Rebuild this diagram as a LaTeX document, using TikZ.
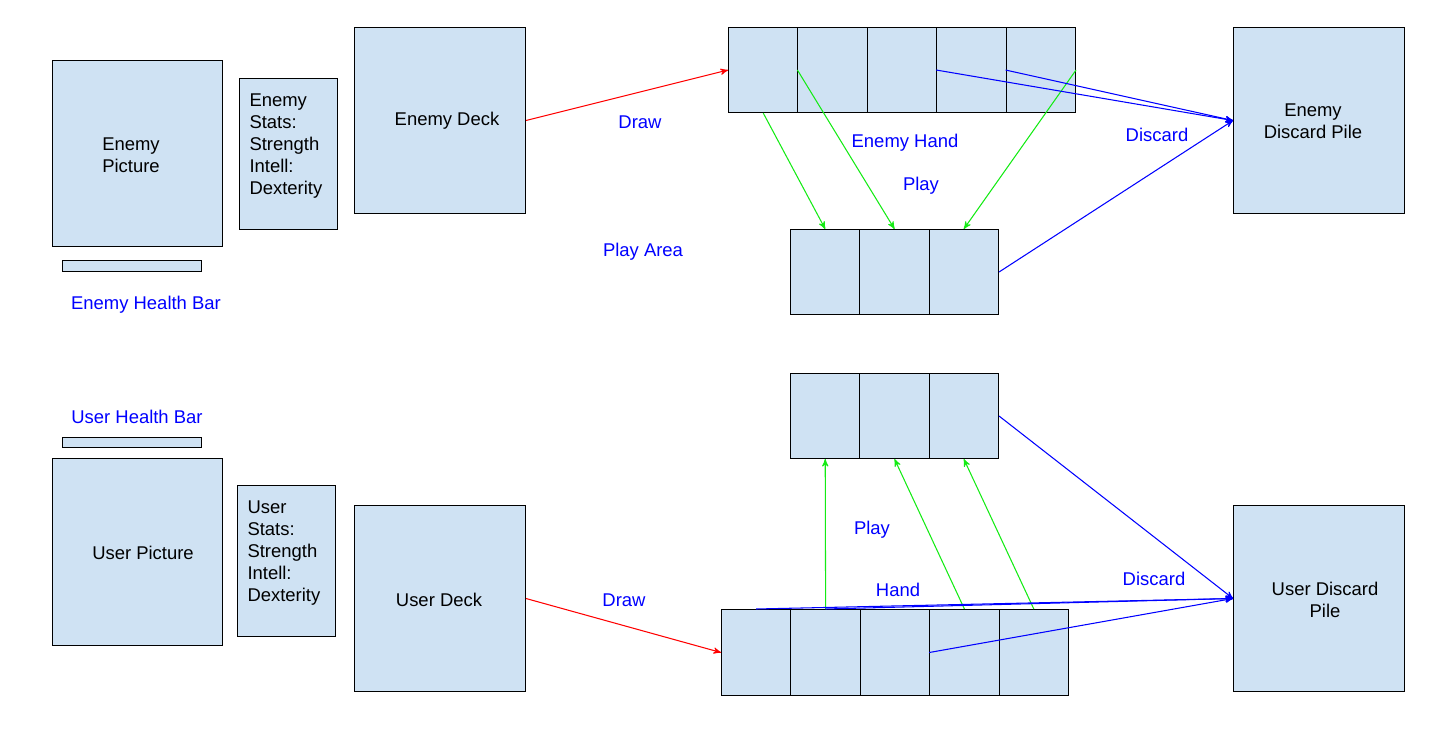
\documentclass[tikz,border=0pt]{standalone}
\usepackage{fontspec}
\setmainfont{Liberation Sans}
\usepackage{tikz}
\usetikzlibrary{arrows}
\definecolor{cardblue}{RGB}{207,226,243}
\definecolor{playgreen}{RGB}{20,235,20}

\begin{document}
\begin{tikzpicture}[x=0.02cm,y=-0.02cm,>=stealth',line width=0.6pt,
  box node/.style={rectangle,draw,fill=cardblue,anchor=north west,inner sep=0pt,
    font=\fontsize{10.5}{12.5}\selectfont,align=center},
  pile node/.style={box node,minimum width=3.42cm,minimum height=3.72cm},
  cell node/.style={box node,minimum width=1.388cm,minimum height=1.7cm},
  text node/.style={font=\fontsize{10.5}{12.5}\selectfont,align=left,inner sep=0pt},
  label node/.style={text node,text=blue},
  draw edge/.style={->,draw=red},
  play edge/.style={->,draw=playgreen},
  discard edge/.style={->,draw=blue}]
  \useasboundingbox (0,0) rectangle (1444,743);

  % enemy side
  \node[box node,minimum width=3.4cm,minimum height=3.72cm] (epic) at (52,60) {};
  \node[text node] (epictext) at (131,155) {Enemy\\Picture};
  \node[box node,minimum width=1.96cm,minimum height=3.02cm] (estats) at (239,78) {};
  \node[text node,anchor=north west] (estatstext) at (249,93) {Enemy\\Stats:\\Strength\\Intell:\\Dexterity};
  \node[box node,minimum width=2.78cm,minimum height=0.22cm] (ebar) at (62,260) {};
  \node[label node] (ebarlabel) at (146,305) {Enemy Health Bar};
  \node[pile node] (edeck) at (354,27) {};
  \node[text node] (edecktext) at (447,121) {Enemy Deck};
  \foreach \i in {1,...,5}
    \node[cell node] (ehand\i) at ({728+(\i-1)*69.4},27) {};
  \foreach \i in {1,2,3}
    \node[cell node] (earea\i) at ({790+(\i-1)*69.3},229) {};
  \node[pile node] (edisc) at (1233,27) {};
  \node[text node,align=center] (edisctext) at (1313,121) {Enemy\\Discard Pile};

  \node[label node] (edrawlabel) at (640,122) {Draw};
  \node[label node] (ehandlabel) at (905,143) {Enemy Hand};
  \node[label node] (eplaylabel) at (921,186) {Play};
  \node[label node] (edisclabel) at (1157,135) {Discard};
  \node[label node] (earealabel) at (643,252) {Play Area};

  \path
    (edeck.east) edge [draw edge] (ehand1.west)
    (ehand1.south) edge [play edge] (earea1.north)
    (ehand2.west) edge [play edge] (earea2.north)
    (ehand5.east) edge [play edge] (earea3.north)
    (ehand4.west) edge [discard edge] (edisc.west)
    (ehand5.west) edge [discard edge] (edisc.west)
    (earea3.east) edge [discard edge] (edisc.west);

  % user side
  \node[label node] (ubarlabel) at (137,417) {User Health Bar};
  \node[box node,minimum width=2.78cm,minimum height=0.2cm] (ubar) at (62,437) {};
  \node[box node,minimum width=3.4cm,minimum height=3.74cm] (upic) at (52,458) {};
  \node[text node] (upictext) at (143,553) {User Picture};
  \node[box node,minimum width=1.96cm,minimum height=3.02cm] (ustats) at (237,485) {};
  \node[text node,anchor=north west] (ustatstext) at (247,500) {User\\Stats:\\Strength\\Intell:\\Dexterity};
  \node[pile node] (udeck) at (354,505) {};
  \node[text node] (udecktext) at (439,600) {User Deck};
  \foreach \i in {1,2,3}
    \node[cell node] (uarea\i) at ({790+(\i-1)*69.3},373) {};
  \foreach \i in {1,...,5}
    \node[cell node,minimum height=1.72cm] (uhand\i) at ({721+(\i-1)*69.4},609) {};
  \node[pile node] (udisc) at (1233,505) {};
  \node[text node,align=center] (udisctext) at (1325,600) {User Discard\\Pile};

  \node[label node] (udrawlabel) at (624,600) {Draw};
  \node[label node] (uplaylabel) at (872,530) {Play};
  \node[label node] (uhandlabel) at (898,590) {Hand};
  \node[label node] (udisclabel) at (1154,579) {Discard};

  \path
    (udeck.east) edge [draw edge] (uhand1.west)
    (uhand2.north) edge [play edge] (uarea1.south)
    (uhand4.north) edge [play edge] (uarea2.south)
    (uhand5.north) edge [play edge] (uarea3.south)
    (uarea3.east) edge [discard edge] (udisc.west)
    (uhand1.north) edge [discard edge] (udisc.west)
    (uhand2.north) edge [discard edge] (udisc.west)
    (uhand4.west) edge [discard edge] (udisc.west);
\end{tikzpicture}
\end{document}
